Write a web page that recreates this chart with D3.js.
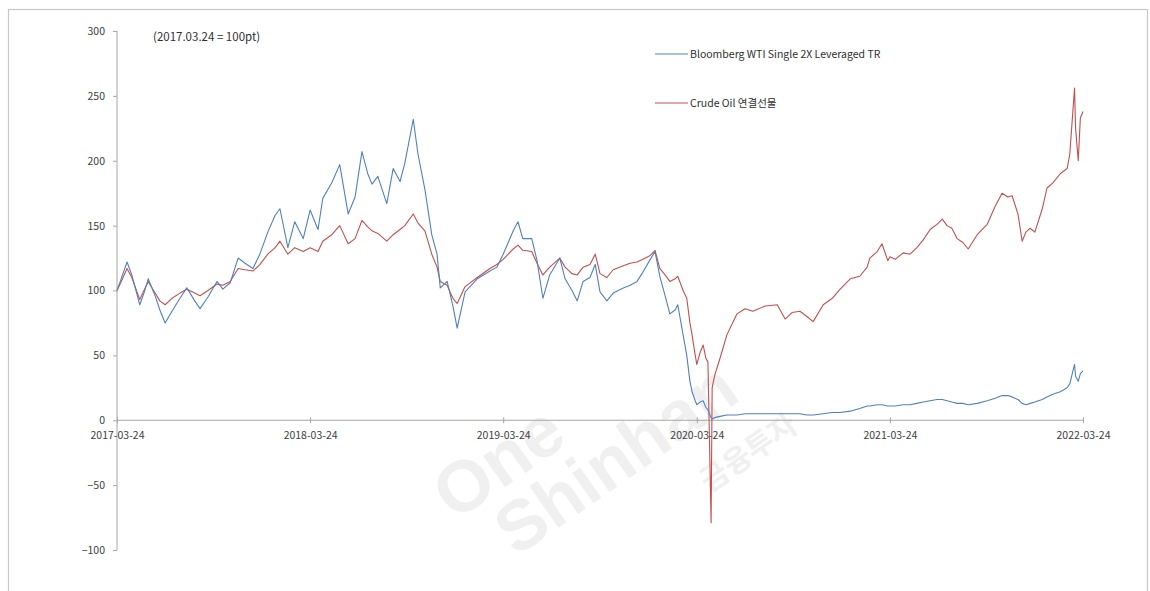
<!DOCTYPE html>
<html><head><meta charset="utf-8">
<script src="https://cdn.jsdelivr.net/npm/d3@7"></script>
<style>
html,body{margin:0;padding:0;background:#fff;}
svg{display:block;font-family:"Noto Sans CJK KR","Open Sans",sans-serif;}
</style></head><body>
<svg id="c" width="1150" height="591"></svg>
<script>
const dates = ["2017-03-24","2017-03-31","2017-04-12","2017-04-21","2017-05-06","2017-05-14","2017-05-22","2017-06-04","2017-06-13","2017-06-23","2017-07-06","2017-07-21","2017-08-03","2017-08-18","2017-08-28","2017-09-12","2017-09-29","2017-10-10","2017-10-24","2017-11-08","2017-11-21","2017-12-06","2017-12-19","2018-01-03","2018-01-17","2018-01-26","2018-02-10","2018-02-23","2018-03-11","2018-03-24","2018-04-08","2018-04-17","2018-05-04","2018-05-19","2018-06-04","2018-06-17","2018-06-30","2018-07-11","2018-07-19","2018-07-30","2018-08-16","2018-08-28","2018-09-10","2018-09-19","2018-10-05","2018-10-14","2018-10-27","2018-11-09","2018-11-19","2018-11-25","2018-12-08","2018-12-19","2018-12-27","2019-01-11","2019-02-03","2019-02-27","2019-03-12","2019-03-24","2019-04-12","2019-04-21","2019-04-30","2019-05-17","2019-05-27","2019-06-07","2019-06-20","2019-07-09","2019-07-19","2019-08-01","2019-08-11","2019-08-22","2019-09-04","2019-09-14","2019-09-23","2019-10-06","2019-10-18","2019-11-06","2019-11-19","2019-12-02","2019-12-13","2019-12-27","2020-01-05","2020-01-14","2020-01-24","2020-02-02","2020-02-12","2020-02-17","2020-02-27","2020-03-05","2020-03-11","2020-03-15","2020-03-21","2020-03-24","2020-03-30","2020-04-05","2020-04-10","2020-04-14","2020-04-20","2020-04-22","2020-04-27","2020-05-07","2020-05-20","2020-06-08","2020-06-23","2020-07-08","2020-07-31","2020-08-23","2020-09-07","2020-09-20","2020-10-05","2020-10-18","2020-10-30","2020-11-18","2020-12-05","2020-12-20","2021-01-08","2021-01-26","2021-02-09","2021-02-14","2021-02-28","2021-03-09","2021-03-20","2021-03-24","2021-04-03","2021-04-18","2021-05-01","2021-05-14","2021-05-26","2021-06-08","2021-06-21","2021-07-01","2021-07-10","2021-07-19","2021-07-29","2021-08-09","2021-08-19","2021-09-05","2021-09-24","2021-10-09","2021-10-22","2021-11-02","2021-11-10","2021-11-21","2021-11-29","2021-12-06","2021-12-14","2021-12-23","2022-01-06","2022-01-15","2022-01-26","2022-02-09","2022-02-22","2022-02-27","2022-03-08","2022-03-10","2022-03-15","2022-03-19","2022-03-24"];

const bloomberg = [100,108,122,112,89,98,109,96,85,75,84,94,102,92,86,95,107,101,106,125,121,117,128,145,158,163,133,153,140,162,147,171,183,197,159,172,207,190,182,188,167,194,184,198,232,205,178,143,128,102,107,88,71,99,109,115,118,128,146,153,140,140,123,94,112,125,109,100,92,107,110,120,99,92,98,102,104,107,114,124,130,111,96,82,85,89,66,50,30,22,15,12,14,15,10,8,2,1,2,3,4,4,5,5,5,5,5,5,5,4,4,5,6,6,7,9,11,11,12,12,11,11,11,12,12,13,14,15,16,16,15,14,13,13,12,13,15,17,19,19,18,16,13,12,13,14,16,18,20,22,25,28,43,34,30,36,38];

const crude = [100,106,117,110,93,100,107,98,92,89,94,98,101,98,96,100,105,104,107,117,116,115,120,128,133,138,128,133,130,133,130,138,143,150,136,140,154,149,146,144,138,143,147,150,159,152,146,128,118,107,104,94,90,103,110,117,120,124,132,135,131,130,121,112,118,125,118,113,112,118,120,128,113,110,116,119,121,122,124,127,131,117,112,107,109,111,100,94,75,66,50,43,52,58,48,45,-79,25,35,48,66,82,86,84,88,89,78,83,84,80,76,89,94,101,109,111,118,125,130,136,123,126,124,129,128,133,139,147,151,155,150,148,140,137,132,143,151,165,175,172,173,159,138,145,148,145,163,179,183,190,194,205,256,225,200,233,238];

const yTicks = [-100,-50,0,50,100,150,200,250,300];
const xTicks = ["2017-03-24","2018-03-24","2019-03-24","2020-03-24","2021-03-24","2022-03-24"];
const seriesNames = ["Bloomberg WTI Single 2X Leveraged TR","Crude Oil 연결선물"];
const seriesColors = ["#4f81bd","#c0504d"];
const note = "(2017.03.24  = 100pt)";

const parse = d3.timeParse("%Y-%m-%d");
const fmt = d3.timeFormat("%Y-%m-%d");
const svg = d3.select("#c");

// frame
svg.append("rect").attr("x",8.5).attr("y",9.5).attr("width",1139).attr("height",600)
  .attr("fill","none").attr("stroke","#c8c8c8").attr("stroke-width",1.2);

// watermark
const wm = svg.append("g").attr("transform","translate(455,522) rotate(-35)")
  .attr("fill","#f0f0f0").attr("font-family","Arial, 'Liberation Sans', sans-serif").attr("font-weight","bold");
wm.append("text").attr("x",0).attr("y",0).attr("font-size",72).text("One");
wm.append("text").attr("x",30).attr("y",64).attr("font-size",70).text("Shinhan");
wm.append("text").attr("x",225).attr("y",122).attr("font-size",30).attr("font-family","'Noto Sans CJK KR'").text("금융투자");

const x = d3.scaleTime().domain([parse("2017-03-24"), parse("2022-03-24")]).range([117,1083]);
const y = d3.scaleLinear().domain([-100,300]).range([550,31]);

// y axis
const ya = svg.append("g").attr("transform","translate(117,0)")
  .call(d3.axisLeft(y).tickValues(yTicks).tickSize(4).tickPadding(8).tickFormat(d3.format("d")));
ya.select(".domain").attr("stroke","#a6a6a6").attr("d","M0,"+y(-100)+"V"+y(300));
ya.selectAll(".tick line").attr("stroke","#a6a6a6");
ya.selectAll("text").attr("fill","#404040").attr("font-size",10.5).attr("font-family","'Noto Sans CJK KR',sans-serif");

// x axis at zero
const xa = svg.append("g").attr("transform","translate(0,"+y(0)+")")
  .call(d3.axisBottom(x).tickValues(xTicks.map(parse)).tickSize(3).tickPadding(8).tickFormat(fmt));
xa.select(".domain").attr("stroke","#a6a6a6").attr("d","M117,0H1083");
xa.selectAll(".tick line").attr("stroke","#a6a6a6").attr("y1",-3);
xa.selectAll("text").attr("fill","#404040").attr("font-size",10.5).attr("font-family","'Noto Sans CJK KR',sans-serif");

// lines
const pts = dates.map(parse);
const line = d3.line().x((d,i)=>x(pts[i])).y(d=>y(d)).curve(d3.curveLinear);
svg.append("path").datum(crude).attr("d",line).attr("fill","none")
  .attr("stroke",seriesColors[1]).attr("stroke-width",1.1).attr("stroke-linejoin","round");
svg.append("path").datum(bloomberg).attr("d",line).attr("fill","none")
  .attr("stroke",seriesColors[0]).attr("stroke-width",1.1).attr("stroke-linejoin","round");

// note
svg.append("text").attr("x",153).attr("y",41).attr("font-size",11.5).attr("fill","#303030")
  .attr("font-family","'Noto Sans CJK KR',sans-serif").text(note);

// legend
const lg = svg.append("g");
seriesNames.forEach((n,i)=>{
  const ly = 54 + i*49;
  lg.append("line").attr("x1",655).attr("x2",688).attr("y1",ly).attr("y2",ly)
    .attr("stroke",seriesColors[i]).attr("stroke-width",1);
  lg.append("text").attr("x",690).attr("y",ly+4).attr("font-size",10.5).attr("fill","#303030")
    .attr("font-family","'Noto Sans CJK KR',sans-serif").text(n);
});
</script>
</body></html>
